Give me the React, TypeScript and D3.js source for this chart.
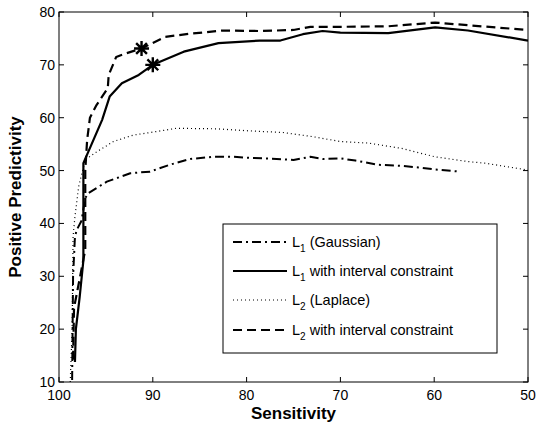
import React from "react";
import { scaleLinear, line } from "d3";

// sensitivity (x) and positive predictivity (y)
const gaussSens = [98.6, 98.5, 98.3, 98.1, 97.6, 97.2, 96.9, 94.9, 92.4, 90.3, 88.2, 86.0, 83.6, 81.4, 79.6, 76.8, 75.0, 73.2, 71.9, 70.0, 68.4, 66.0, 63.5, 61.7, 59.9, 57.2];
const gaussPP = [10.4, 30.0, 37.5, 38.8, 40.5, 44.8, 45.7, 47.9, 49.5, 49.8, 51.1, 52.2, 52.6, 52.6, 52.4, 52.2, 52.0, 52.6, 52.2, 52.3, 51.9, 51.1, 50.9, 50.6, 50.2, 49.8];

const l1Sens = [98.3, 98.2, 97.8, 97.4, 97.4, 95.4, 94.6, 93.3, 91.5, 90.0, 86.7, 83.0, 78.6, 76.4, 74.0, 71.9, 70.0, 64.9, 59.9, 56.4, 50.0];
const l1PP = [13.8, 20.0, 26.0, 33.0, 51.4, 59.6, 64.0, 66.5, 68.1, 70.0, 72.5, 74.1, 74.6, 74.6, 75.8, 76.4, 76.1, 76.0, 77.1, 76.5, 74.6];

const laplaceSens = [98.8, 98.6, 98.5, 98.3, 97.9, 97.2, 96.2, 94.2, 92.1, 89.2, 87.5, 83.2, 79.6, 76.1, 72.9, 70.0, 67.0, 63.5, 59.9, 56.4, 54.6, 50.0];
const laplacePP = [10.0, 20.0, 37.5, 41.3, 47.0, 52.0, 53.3, 55.5, 56.7, 57.5, 58.0, 57.9, 57.5, 57.2, 56.4, 55.5, 55.2, 54.2, 52.6, 51.7, 51.4, 50.1];

const l2Sens = [98.5, 98.4, 97.2, 97.2, 97.0, 96.7, 96.0, 94.8, 94.7, 93.9, 92.8, 91.2, 88.7, 86.0, 82.5, 78.6, 75.0, 73.2, 70.0, 64.9, 59.9, 56.4, 50.0];
const l2PP = [14.2, 24.0, 35.0, 50.0, 55.8, 60.0, 62.4, 65.6, 68.1, 71.5, 72.2, 73.1, 75.3, 75.9, 76.5, 76.4, 76.6, 77.2, 77.2, 77.3, 78.0, 77.5, 76.6];

const starSens = [90.0, 91.2];
const starPP = [70.0, 73.1];

const xTicks = [100, 90, 80, 70, 60, 50];
const yTicks = [10, 20, 30, 40, 50, 60, 70, 80];

const series = [
  { name: "(Gaussian)", sub: "1", xs: gaussSens, ys: gaussPP, width: 2, dash: "9,4,2,4" },
  { name: "with interval constraint", sub: "1", xs: l1Sens, ys: l1PP, width: 2.2, dash: "" },
  { name: "(Laplace)", sub: "2", xs: laplaceSens, ys: laplacePP, width: 1.2, dash: "1,3" },
  { name: "with interval constraint", sub: "2", xs: l2Sens, ys: l2PP, width: 2.2, dash: "9,5" },
];

const W = 541, H = 425;
const m = { left: 59, right: 528, top: 12, bottom: 382 };
const font = "'Liberation Sans', Arial, Helvetica, sans-serif";

const App = () => {
  const x = scaleLinear().domain([100, 50]).range([m.left, m.right]);
  const y = scaleLinear().domain([10, 80]).range([m.bottom, m.top]);
  const pathGen = line<[number, number]>().x(d => x(d[0])).y(d => y(d[1]));

  const star = (cx: number, cy: number, r: number) => {
    const d = r * 0.72;
    return `M${cx - r},${cy}L${cx + r},${cy}M${cx},${cy - r}L${cx},${cy + r}` +
      `M${cx - d},${cy - d}L${cx + d},${cy + d}M${cx - d},${cy + d}L${cx + d},${cy - d}`;
  };

  const lgX = 223, lgY = 224, lgW = 274, lgH = 129;
  const rowY = [242, 271, 300, 330];

  return (
    <svg width={W} height={H} style={{ position: "absolute", left: 0, top: 0, background: "#fff" }} fontFamily={font}>
      <rect x={0} y={0} width={W} height={H} fill="#fff" />
      <defs>
        <clipPath id="plot">
          <rect x={m.left} y={m.top} width={m.right - m.left} height={m.bottom - m.top} />
        </clipPath>
      </defs>

      <g clipPath="url(#plot)">
        {series.map((s, i) => (
          <path key={i}
            d={pathGen(s.xs.map((v, j) => [v, s.ys[j]] as [number, number])) || ""}
            fill="none" stroke="#000" strokeWidth={s.width}
            strokeDasharray={s.dash || undefined} strokeLinejoin="round" />
        ))}
      </g>
      {starSens.map((v, i) => (
        <path key={i} d={star(x(v), y(starPP[i]), 7.5)} stroke="#000" strokeWidth={2.4} fill="none" />
      ))}

      {/* axes box and ticks */}
      <rect x={m.left} y={m.top} width={m.right - m.left} height={m.bottom - m.top} fill="none" stroke="#000" strokeWidth={1} />
      {xTicks.map(t => (
        <g key={t}>
          <line x1={x(t)} x2={x(t)} y1={m.bottom} y2={m.bottom - 5} stroke="#000" />
          <line x1={x(t)} x2={x(t)} y1={m.top} y2={m.top + 5} stroke="#000" />
          <text x={x(t)} y={m.bottom + 18} textAnchor="middle" fontSize={14}>{t}</text>
        </g>
      ))}
      {yTicks.map(t => (
        <g key={t}>
          <line x1={m.left} x2={m.left + 5} y1={y(t)} y2={y(t)} stroke="#000" />
          <line x1={m.right} x2={m.right - 5} y1={y(t)} y2={y(t)} stroke="#000" />
          <text x={m.left - 4} y={y(t) + 5} textAnchor="end" fontSize={14}>{t}</text>
        </g>
      ))}

      <text x={(m.left + m.right) / 2} y={419} textAnchor="middle" fontSize={17} fontWeight="bold">Sensitivity</text>
      <text transform={`translate(21,${(m.top + m.bottom) / 2}) rotate(-90)`} textAnchor="middle" fontSize={17} fontWeight="bold">Positive Predictivity</text>

      {/* legend */}
      <rect x={lgX} y={lgY} width={lgW} height={lgH} fill="#fff" stroke="#000" strokeWidth={1} />
      {series.map((s, i) => (
        <g key={i}>
          <line x1={233} x2={287} y1={rowY[i]} y2={rowY[i]} stroke="#000" strokeWidth={s.width} strokeDasharray={s.dash || undefined} />
          <text x={292} y={rowY[i] + 5} fontSize={14.5}>
            L<tspan fontSize={10} dy={5}>{s.sub}</tspan><tspan dy={-5}> {s.name}</tspan>
          </text>
        </g>
      ))}
    </svg>
  );
};

export default App;
